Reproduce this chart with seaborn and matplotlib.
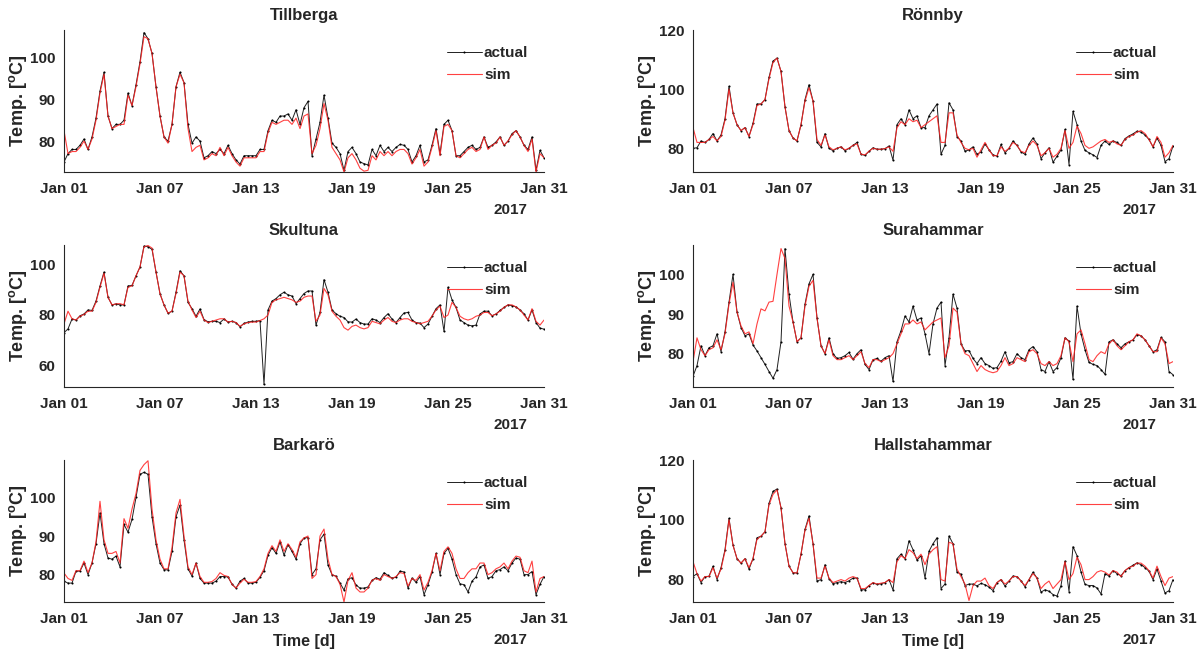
import matplotlib
matplotlib.use('Agg')
import matplotlib.pyplot as plt
import matplotlib.dates as mdates
import pandas as pd
import numpy as np
import seaborn as sns

# 6-hourly samples, Jan 01 00:00 .. Jan 31 00:00 (121 values per series)
times = pd.date_range('2017-01-01', '2017-01-31', freq='6h')

stations = ['Tillberga', 'Rönnby', 'Skultuna', 'Surahammar', 'Barkarö', 'Hallstahammar']

tillberga_actual = [
    75, 77, 78, 78, 79, 80.5, 78, 81, 85.5, 92, 96.5, 86,
    83, 84, 84, 85, 91.5, 88.5, 93.5, 99, 106, 104.5, 101, 93,
    86, 81, 80, 84, 93, 96.5, 94, 84, 79.5, 81, 80, 76,
    76.5, 77.5, 77, 78, 77, 79, 77, 75.5, 74.5, 76.5, 76.5, 76.5,
    76.5, 78, 78, 82.5, 85, 84.5, 86, 86, 86.5, 85, 87.5, 84,
    88, 89.5, 76.5, 80.5, 84.5, 91, 85.5, 79.5, 78.5, 77, 73, 77.5,
    78.5, 77, 75, 74.6, 74.3, 78, 76.5, 79, 77.5, 78.5, 77.5, 78.5,
    79.2, 79, 78, 75, 76.5, 79, 75, 75.5, 79, 83, 77, 84,
    85, 82.5, 76.5, 76.5, 77.5, 78.5, 79, 78, 78.5, 81, 78.5, 79,
    79.8, 81, 79, 80, 81.8, 82.5, 81, 79, 78, 81, 73, 77.8,
    76]
tillberga_sim = [
    82.5, 77, 77.5, 77.5, 78.5, 80, 78, 80.5, 85, 91.5, 96, 86,
    83, 83.5, 84, 84, 91, 88.5, 93, 98.5, 105, 104.5, 101, 93,
    86, 81, 79.5, 84, 93, 96, 94, 83, 77.5, 78.5, 79, 75.5,
    76, 77, 76.5, 78.5, 76.5, 78.5, 76.5, 75, 74, 76, 76, 76,
    76, 77.5, 77.5, 82, 84.5, 84, 84.5, 85, 85, 84, 85.5, 83,
    86, 86.5, 77, 79, 83, 89, 85, 78.5, 77, 75.5, 72.6, 76,
    77, 75.5, 73.5, 72.8, 73, 76.5, 75.5, 77.5, 76.5, 77.5, 76.5, 77.5,
    78, 78, 77, 74.5, 76, 78, 74, 75, 78.5, 82.5, 76.5, 83.5,
    84, 82.5, 76.5, 76, 77, 78, 78.5, 77.5, 78, 81, 78, 79,
    79.5, 81, 79, 80, 81.5, 82.5, 81, 79, 77.5, 80.5, 72.6, 77,
    76]

ronnby_actual = [
    80, 80.2, 82.5, 82, 83, 85, 82.5, 84.5, 90, 101, 92, 88,
    86, 87, 84, 88.5, 95, 95, 96.5, 104, 109.5, 110.5, 106, 94,
    86, 83.5, 82.5, 88, 96.5, 101.5, 96, 82, 80.5, 85, 80, 79.2,
    80, 80.5, 79.2, 80, 81, 82, 78, 77.6, 79, 80.2, 79.7, 79.7,
    79.9, 80.8, 76, 88, 90, 88, 93, 90, 91, 87, 87, 91,
    93, 95, 78, 81, 95.4, 93, 84, 82.5, 79, 79.5, 80.5, 78,
    78.8, 81.5, 79.5, 77.8, 77.4, 81.3, 78.5, 80, 82.5, 81, 78.8, 78,
    81.5, 83.5, 81.5, 76.5, 78.5, 80.2, 75.3, 77.3, 79.5, 86.4, 74.5, 92.5,
    88, 82.5, 79.3, 78.5, 77.8, 76.9, 81, 82.5, 81.3, 82.5, 82, 81,
    83.3, 84.2, 84.9, 85.8, 85.5, 84.5, 83, 80.5, 83.5, 81, 75.5, 76.5,
    80.8]
ronnby_sim = [
    87, 82, 82, 82, 83, 84, 82.5, 84, 89.5, 100, 92, 88,
    86, 87, 84, 88, 94.5, 95, 96.5, 103.5, 109, 110.5, 106, 94,
    86, 83.5, 82.5, 88, 96, 100.5, 96, 83, 81, 84.5, 80.5, 79.5,
    80, 80.5, 79.5, 80, 81, 81.5, 78, 77.8, 79, 80, 79.7, 79.7,
    79.9, 80.5, 79, 87, 89, 88, 90, 89, 89.5, 87, 88, 89,
    90, 91, 82, 82, 92, 92, 84.5, 82, 80, 79.5, 80, 77,
    79.5, 82, 79.5, 77.5, 77.5, 80.5, 79, 80, 82, 81, 79, 78.5,
    81, 82.5, 81, 77.5, 78.5, 80, 77, 78, 80, 86, 80, 82,
    87.5, 85, 81, 80, 80.5, 81.5, 82.5, 83, 82, 82.5, 81.5, 81,
    83, 84, 84.5, 85.5, 86, 85, 83, 80.5, 84, 82, 77, 78.5,
    81]

skultuna_actual = [
    73, 74.5, 78.4, 78, 79.7, 80.4, 82, 81.8, 85.5, 91.5, 97, 87,
    84, 84.4, 84, 84, 91.5, 91.7, 95.5, 99, 107.3, 107, 106, 97,
    88.4, 84, 80.7, 81.5, 89, 97.5, 95.5, 85, 82.5, 79.5, 82.4, 78.2,
    77.3, 77.5, 77.5, 77, 78.4, 77.2, 77.5, 77, 75.3, 76.7, 77.2, 77.5,
    77.5, 77.8, 52.5, 82, 85.5, 86.5, 88, 89, 88, 87.5, 84.5, 86.5,
    88.5, 89.5, 89.5, 76, 81, 94, 89, 82, 80.5, 79.5, 79, 77.3,
    77.2, 78.4, 77, 76.4, 76.4, 78.5, 78, 77, 79, 80.5, 78.4, 77,
    79, 80.8, 81, 78, 77, 76.8, 75, 76.4, 79.5, 82.5, 84, 73.5,
    91, 86, 83, 78, 77, 76, 75.7, 76, 80.4, 81.5, 81.5, 79.7,
    80.4, 81.8, 83, 84, 83.7, 83.2, 82, 80.5, 78, 82, 77, 74.8,
    74.4]
skultuna_sim = [
    76.5, 81.5, 78.5, 78, 79.5, 80.2, 81.5, 81.5, 85, 91, 96.5, 87,
    84, 84.4, 84.5, 84, 91, 91.5, 95.5, 99, 107, 107.5, 106.5, 97,
    88.4, 84, 80.7, 81.5, 88.5, 97, 95.5, 85.5, 82, 79, 81.5, 78,
    77, 77.5, 78, 78.5, 78.5, 77.2, 77.5, 77, 75.5, 76.5, 77, 77.2,
    77.2, 77.8, 78.5, 80, 85, 86, 86.5, 87, 86.5, 86, 85, 85.5,
    87, 87.5, 87.5, 77.5, 80, 90.5, 88, 81.5, 79.5, 78, 75, 74,
    75.5, 76, 75, 74.5, 75, 77.5, 77, 76.5, 78, 79, 77.5, 77,
    78, 78.5, 78.5, 77.5, 77, 76.5, 77, 77.5, 79.5, 82, 83.5, 79,
    80, 85, 83, 79.5, 78.5, 78, 78.5, 79.5, 80, 81, 81, 79.7,
    80.4, 81.5, 83, 84, 84, 83.2, 82, 80, 78, 82.5, 77.5, 76,
    78]

surahammar_actual = [
    74.3, 77, 82, 79.5, 81.5, 82, 85, 80.5, 85.5, 93, 100, 90.5,
    86.6, 84.5, 85, 82.2, 80.7, 79, 77.3, 75.5, 73.8, 76, 83, 106.5,
    95, 88, 83, 84, 92.5, 97.6, 100, 89, 82, 80, 84, 80,
    78.8, 79, 79.5, 80.3, 78.6, 80, 81, 77.3, 76, 78.5, 78.8, 78.1,
    79, 79.5, 73, 83, 85.8, 89.5, 88, 92, 88.5, 89, 85, 80,
    87.5, 91.5, 93, 77, 84, 95, 91.5, 82.5, 80.7, 80.8, 78.8, 77.5,
    79, 77.5, 77, 76.3, 76.5, 78.1, 80.5, 77.7, 78, 80, 79, 78.5,
    81, 81.8, 80.5, 76, 75.5, 78, 75.5, 76.5, 79, 84, 83.2, 73.5,
    92, 85, 81, 77.8, 77.3, 77, 76, 74.8, 83, 83.5, 82.5, 81.5,
    82.5, 83, 83.5, 84.8, 84.5, 83.5, 82, 80.5, 81, 84.1, 83, 75.5,
    74.7]
surahammar_sim = [
    78, 84, 81, 79.5, 81, 81.5, 83.5, 81, 85, 92.5, 98, 90.5,
    87, 85, 85.5, 82.5, 87.5, 91.3, 90.8, 93, 93.2, 100, 106.5, 104,
    92, 88, 83, 84, 92, 97, 98.5, 89, 82, 80, 83.5, 79.5,
    78.5, 78.5, 79, 79.5, 78.5, 79.5, 80.5, 77.5, 76.5, 78.5, 78.5, 78,
    78.5, 79, 80, 82.5, 85, 87.5, 87.5, 88.5, 87.5, 88, 86, 87,
    88, 88.5, 89, 79, 82, 91.5, 90.5, 82.5, 80, 79.5, 77.5, 75.5,
    77, 76, 75.5, 75.2, 75.5, 77, 79, 77, 77.5, 79, 78.5, 78,
    80.5, 81, 80, 77.5, 77, 78, 77, 77.5, 79.5, 84, 83, 78,
    85, 86, 82.5, 78.5, 78, 79.5, 80.5, 80, 82.5, 83.5, 82, 81,
    82, 83, 83.5, 85, 84.5, 83.5, 82, 80.5, 80.5, 84, 82.5, 77.5,
    78]

barkaro_actual = [
    78.3, 77.8, 77.8, 80.9, 80.9, 83, 80, 83, 88, 96, 88, 84.3,
    84, 84.8, 82, 93, 91, 94.3, 100, 106, 106.5, 106, 95, 88,
    83, 81.3, 81.2, 86, 95, 98, 89, 81.5, 79.6, 83, 79, 77.8,
    77.8, 77.8, 78.3, 79.5, 79.5, 79.4, 77.5, 76.5, 78.3, 79, 77.8, 77.8,
    78, 79.3, 81, 85, 87, 85.5, 88.5, 85, 87.8, 86, 84, 88,
    89.5, 89.6, 80, 81.5, 89, 90.5, 82.5, 80, 79.6, 77.8, 76, 78.9,
    79.2, 77.3, 76.5, 76.5, 76.8, 78.5, 79.2, 78.8, 80.5, 79.8, 79.1, 79.3,
    80.9, 80.7, 76.5, 79.1, 78, 79.5, 74.8, 77.4, 80.6, 85.5, 80, 85.5,
    86.8, 84, 80, 77.6, 77.4, 75.5, 78.3, 79.4, 82, 82.5, 79, 79.5,
    81, 81.3, 82, 81, 83, 84.3, 84, 80, 80, 80.8, 74.8, 77.5,
    79.5]
barkaro_sim = [
    80.4, 79, 78.5, 81, 81, 83.5, 80.5, 83, 88.5, 99, 89, 85.5,
    85.5, 86, 83, 94.5, 92, 97, 101, 107, 108.5, 109.5, 97, 89,
    84, 81.5, 81.5, 87, 96, 99.5, 90, 82, 80, 83, 79.5, 78,
    78, 78.2, 79, 80.5, 79.8, 79.5, 77.5, 76.5, 77.8, 78.8, 78, 78,
    78.2, 79.5, 81.5, 85.5, 87.5, 86, 89, 86, 88, 86.5, 84.5, 88.5,
    89.5, 90, 79, 80, 90, 91.8, 84, 80, 79.5, 77.5, 72.9, 78.5,
    80.5, 76.5, 75.5, 75.5, 76.5, 78.5, 79, 78.5, 80, 79.5, 79, 79.5,
    80.5, 80.3, 77, 79, 78.5, 80, 76, 78, 81, 85.5, 81, 86,
    87.2, 85.5, 81.5, 79, 79, 80.5, 81.5, 81.5, 83, 83, 80, 80.5,
    81.5, 82, 83, 81.5, 83.5, 84.8, 84.5, 81, 80.5, 83.5, 75.5, 79,
    79.5]

hallsta_actual = [
    81, 82, 79, 81, 81.1, 84.5, 80, 84, 90, 100.5, 91.5, 87,
    85.5, 87, 83.5, 87, 94, 94.5, 96, 105.5, 109.5, 110.3, 104, 92,
    84.5, 82.3, 82.2, 88.5, 96.8, 101.3, 92, 79.5, 80, 85, 80.3, 78.6,
    79, 79.3, 79, 79.6, 80.5, 80.5, 76.6, 76.6, 78, 78.9, 78.4, 78.6,
    79, 80, 76.5, 87, 88.5, 87, 93, 90, 86.5, 88, 80.5, 89.5,
    92, 94, 77, 78.5, 94.6, 92, 82.5, 81.8, 78, 78.5, 78.5, 77.9,
    78.7, 78.3, 77.5, 76.3, 79, 80, 77.8, 79.5, 81.2, 81, 79.6, 77.6,
    80, 82.5, 80.5, 75.8, 76.6, 76.1, 75, 74.5, 78, 86.2, 76, 91,
    88, 82.5, 78.4, 78, 78, 77.2, 75.2, 82, 81.2, 83, 82, 81.3,
    83, 84, 84.8, 85.6, 85, 84, 82.8, 80, 83.5, 79.5, 75.5, 76.3,
    80]
hallsta_sim = [
    86, 82, 79.5, 81, 81, 84, 80.5, 83.5, 89.5, 100, 91.5, 87,
    85.5, 87, 84, 87, 93.5, 94.5, 96, 105, 108.5, 110, 104, 92,
    84.5, 82.3, 82.2, 88.5, 96.5, 100.5, 92, 80.5, 80.5, 84.5, 80.5, 79,
    79.5, 80, 79.5, 80.5, 81, 80.5, 77, 77, 78, 79, 78.5, 78.8,
    79, 80, 79, 86, 88, 87, 90, 89, 87, 88.5, 85, 88.5,
    90, 91, 80, 79.5, 92.5, 92, 83.5, 81, 78.5, 73, 78, 79.5,
    79.5, 80.5, 78, 77, 79, 80, 78.5, 79.5, 81, 81, 79.5, 78,
    80, 82, 80.5, 77, 78.5, 79.5, 77, 78.5, 80, 86, 80, 82,
    87.5, 85, 80, 80, 81, 82.5, 83, 82.5, 81.5, 83, 82.5, 81,
    83, 84, 84.5, 85.5, 85.5, 84.5, 83, 80.5, 84.5, 81, 78, 80.5,
    81]

actual_series = [tillberga_actual, ronnby_actual, skultuna_actual,
                 surahammar_actual, barkaro_actual, hallsta_actual]
sim_series = [tillberga_sim, ronnby_sim, skultuna_sim,
              surahammar_sim, barkaro_sim, hallsta_sim]

y_limits = [(72.6, 106.6), (72, 120), (51.5, 107.7),
            (71.6, 107.4), (72.9, 109.7), (72.5, 120)]
y_ticks = [[80, 90, 100], [80, 100, 120], [60, 80, 100],
           [80, 90, 100], [80, 90, 100], [80, 100, 120]]

sns.set_style('white')
plt.rcParams['font.family'] = ['Liberation Sans', 'DejaVu Sans']
plt.rcParams['font.weight'] = 'bold'
plt.rcParams['axes.titleweight'] = 'bold'
plt.rcParams['axes.labelweight'] = 'bold'
plt.rcParams['mathtext.fontset'] = 'custom'
plt.rcParams['mathtext.rm'] = 'Liberation Sans:bold'
plt.rcParams['mathtext.default'] = 'rm'

fig = plt.figure(figsize=(12.01, 6.52), dpi=100)

lefts = [64 / 1201, 693 / 1201]
bottoms = [1 - 172 / 652, 1 - 387 / 652, 1 - 602 / 652]
w = 480 / 1201
h = 142 / 652

for i, name in enumerate(stations):
    row, col = divmod(i, 2)
    ax = fig.add_axes([lefts[col], bottoms[row], w, h])
    df = pd.DataFrame({'time': times, 'actual': actual_series[i], 'sim': sim_series[i]})

    sns.lineplot(data=df, x='time', y='actual', ax=ax, color='#202020', lw=0.7,
                 marker='.', markersize=3, markeredgewidth=0,
                 markerfacecolor='black', label='actual')
    sns.lineplot(data=df, x='time', y='sim', ax=ax, color='#ff2020', lw=0.8,
                 alpha=0.85, label='sim')

    ax.set_xlim(pd.Timestamp('2017-01-01'), pd.Timestamp('2017-01-31'))
    ax.set_ylim(*y_limits[i])
    ax.set_yticks(y_ticks[i])
    ax.xaxis.set_major_locator(mdates.DayLocator(bymonthday=[1, 7, 13, 19, 25, 31]))
    ax.xaxis.set_major_formatter(mdates.DateFormatter('%b %d'))
    ax.tick_params(direction='in', length=4, width=0.8, labelsize=11, colors='#262626')
    ax.tick_params(axis='x', pad=7)
    ax.tick_params(axis='y', pad=6)
    for s in ['top', 'right']:
        ax.spines[s].set_visible(False)
    for s in ['left', 'bottom']:
        ax.spines[s].set_color('#262626')
        ax.spines[s].set_linewidth(0.8)

    ax.set_title(name, fontsize=12, fontweight='bold', pad=7)
    ax.set_ylabel('Temp. [$^{o}$C]', fontsize=13, labelpad=1)
    if row == 2:
        ax.set_xlabel('Time [d]', fontsize=11.5, labelpad=6)
    else:
        ax.set_xlabel('')
    ax.text(0.93, -0.27, '2017', transform=ax.transAxes, ha='center', va='center',
            fontsize=11, fontweight='bold', color='#262626')

    ax.legend(loc='upper left', bbox_to_anchor=(0.797, 0.885), frameon=False,
              borderpad=0, borderaxespad=0, handlelength=2.3, handletextpad=0.15,
              labelspacing=0.5, fontsize=11)

fig.savefig('out.png', dpi=100)
